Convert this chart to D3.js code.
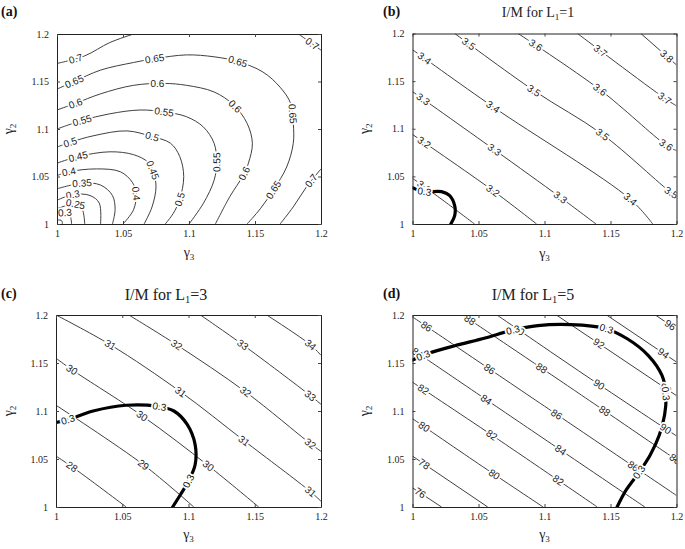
<!DOCTYPE html>
<html><head><meta charset="utf-8">
<script src="https://cdn.jsdelivr.net/npm/d3@7"></script>
<style>
body{margin:0;background:#fff}
svg text{font-family:"Liberation Serif","Times New Roman",serif}
.cl{font-family:"Liberation Sans",Arial,sans-serif !important;font-size:10px}
</style>
</head><body><svg id="c" width="685" height="549"></svg>
<script>
// ---------- data ----------
const xTicks = [1, 1.05, 1.1, 1.15, 1.2];
const yTicks = [1, 1.05, 1.1, 1.15, 1.2];
const tickLabels = ["1", "1.05", "1.1", "1.15", "1.2"];
const panelLetters = ["(a)", "(b)", "(c)", "(d)"];
const titleL1 = [null, "1", "3", "5"];

// panel (a): contour polylines [gamma3, gamma2] with label anchors
const contoursA = [
  {level:"0.7",  pts:[[1,1.169],[1.021,1.177],[1.04,1.191],[1.058,1.2]], labels:[[1.014,1.175]]},
  {level:"0.7",  pts:[[1.183,1.2],[1.19,1.193],[1.2,1.183]], labels:[[1.194,1.191]]},
  {level:"0.7",  pts:[[1.169,1],[1.179,1.018],[1.189,1.039],[1.2,1.058]], labels:[[1.194,1.044]]},
  {level:"0.65", pts:[[1,1.142],[1.013,1.15],[1.033,1.162],[1.058,1.17],[1.074,1.174],[1.098,1.178],[1.119,1.176],[1.137,1.171],[1.156,1.16],[1.169,1.144],[1.177,1.127],[1.179,1.106],[1.179,1.085],[1.174,1.06],[1.164,1.036],[1.154,1.016],[1.144,1]],
    labels:[[1.013,1.15],[1.074,1.174],[1.137,1.171],[1.178,1.116],[1.164,1.036]]},
  {level:"0.6",  pts:[[1,1.12],[1.014,1.127],[1.033,1.137],[1.058,1.146],[1.081,1.148],[1.098,1.146],[1.119,1.139],[1.134,1.125],[1.144,1.106],[1.148,1.085],[1.145,1.064],[1.141,1.051],[1.131,1.029],[1.12,1]],
    labels:[[1.014,1.127],[1.076,1.147],[1.135,1.124],[1.142,1.053]]},
  {level:"0.55", pts:[[1,1.1],[1.019,1.109],[1.04,1.116],[1.063,1.12],[1.081,1.118],[1.098,1.113],[1.111,1.102],[1.119,1.085],[1.121,1.065],[1.119,1.046],[1.111,1.022],[1.1,1]],
    labels:[[1.019,1.109],[1.081,1.117],[1.121,1.065]]},
  {level:"0.5",  pts:[[1,1.081],[1.01,1.086],[1.028,1.093],[1.053,1.098],[1.072,1.092],[1.086,1.085],[1.093,1.071],[1.096,1.05],[1.093,1.026],[1.088,1.011],[1.082,1]],
    labels:[[1.01,1.086],[1.072,1.092],[1.093,1.026]]},
  {level:"0.45", pts:[[1,1.064],[1.016,1.071],[1.04,1.076],[1.058,1.073],[1.069,1.065],[1.073,1.055],[1.075,1.039],[1.072,1.018],[1.066,1]],
    labels:[[1.016,1.071],[1.073,1.057]]},
  {level:"0.4",  pts:[[1,1.051],[1.009,1.055],[1.03,1.058],[1.048,1.055],[1.057,1.044],[1.06,1.032],[1.058,1.015],[1.05,1]],
    labels:[[1.009,1.055],[1.06,1.032]]},
  {level:"0.35", pts:[[1,1.037],[1.019,1.043],[1.033,1.041],[1.042,1.03],[1.044,1.015],[1.042,1]], labels:[[1.019,1.043]]},
  {level:"0.3",  pts:[[1,1.025],[1.012,1.031],[1.025,1.03],[1.032,1.022],[1.033,1]], labels:[[1.012,1.031]]},
  {level:"0.25", pts:[[1,1.016],[1.014,1.021],[1.019,1.016],[1.021,1]], labels:[[1.014,1.021]]},
  {level:"0.3",  pts:[[1,1.008],[1.006,1.012],[1.01,1.008],[1.011,1]], labels:[[1.006,1.012]]},
  {level:"",     pts:[[1,1.004],[1.003,1.004],[1.004,1.002],[1.004,1]], labels:[]}
];

// panel (b): I/M for L1 = 1
const contoursB = [
  {level:"3.1", pts:[[1,1.048],[1.024,1.024],[1.047,1]], labels:[[1.009,1.04]]},
  {level:"3.2", pts:[[1,1.094],[1.061,1.035],[1.094,1]], labels:[[1.007,1.082],[1.061,1.035]]},
  {level:"3.3", pts:[[1,1.139],[1.062,1.078],[1.112,1.028],[1.139,1]], labels:[[1.007,1.129],[1.062,1.078],[1.112,1.028]]},
  {level:"3.4", pts:[[1,1.183],[1.061,1.123],[1.165,1.026],[1.182,1]], labels:[[1.008,1.172],[1.061,1.123],[1.165,1.026]]},
  {level:"3.5", pts:[[1.032,1.2],[1.092,1.14],[1.144,1.094],[1.196,1.033],[1.2,1.03]], labels:[[1.041,1.186],[1.092,1.14],[1.144,1.094],[1.196,1.033]]},
  {level:"3.6", pts:[[1.08,1.2],[1.142,1.141],[1.192,1.083],[1.2,1.077]], labels:[[1.091,1.183],[1.142,1.141],[1.192,1.083]]},
  {level:"3.7", pts:[[1.125,1.2],[1.191,1.132],[1.2,1.124]], labels:[[1.142,1.181],[1.191,1.132]]},
  {level:"3.8", pts:[[1.173,1.2],[1.2,1.167]], labels:[[1.19,1.172]]}
];
const thickB = {level:"0.3", pts:[[1,1.038],[1.009,1.034],[1.022,1.034],[1.028,1.03],[1.032,1.019],[1.032,1.009],[1.029,1]], labels:[[1.009,1.034]]};

// panel (c): I/M for L1 = 3
const contoursC = [
  {level:"28", pts:[[1,1.053],[1.012,1.042],[1.053,1]], labels:[[1.012,1.042]]},
  {level:"29", pts:[[1,1.106],[1.066,1.044],[1.104,1]], labels:[[1.066,1.044]]},
  {level:"30", pts:[[1,1.155],[1.012,1.143],[1.065,1.095],[1.115,1.043],[1.153,1]], labels:[[1.012,1.143],[1.065,1.095],[1.115,1.043]]},
  {level:"31", pts:[[1,1.2],[1.041,1.169],[1.094,1.12],[1.142,1.069],[1.192,1.016],[1.2,1.006]], labels:[[1.041,1.169],[1.094,1.12],[1.142,1.069],[1.192,1.016]]},
  {level:"32", pts:[[1.055,1.2],[1.091,1.169],[1.143,1.12],[1.192,1.066],[1.2,1.058]], labels:[[1.091,1.169],[1.143,1.12],[1.192,1.066]]},
  {level:"33", pts:[[1.109,1.2],[1.141,1.169],[1.192,1.116],[1.2,1.107]], labels:[[1.141,1.169],[1.192,1.116]]},
  {level:"34", pts:[[1.159,1.2],[1.192,1.169],[1.2,1.158]], labels:[[1.192,1.169]]}
];
const thickC = {level:"0.3", pts:[[1,1.088],[1.009,1.091],[1.028,1.1],[1.053,1.106],[1.076,1.105],[1.089,1.1],[1.099,1.086],[1.105,1.065],[1.105,1.044],[1.1,1.027],[1.094,1.013],[1.088,1]],
  labels:[[1.009,1.091],[1.078,1.104],[1.1,1.027]]};

// panel (d): I/M for L1 = 5
const contoursD = [
  {level:"76", pts:[[1,1.02],[1.022,1]], labels:[[1.006,1.015]]},
  {level:"78", pts:[[1,1.053],[1.057,1]], labels:[[1.007,1.041]]},
  {level:"80", pts:[[1,1.092],[1.05,1.045],[1.099,1]], labels:[[1.009,1.084],[1.062,1.034]]},
  {level:"82", pts:[[1,1.13],[1.06,1.075],[1.14,1]], labels:[[1.008,1.122],[1.06,1.075],[1.109,1.025]]},
  {level:"84", pts:[[1,1.164],[1.09,1.08],[1.176,1]], labels:[[1.004,1.161],[1.057,1.114],[1.117,1.069]]},
  {level:"86", pts:[[1,1.198],[1.1,1.105],[1.2,1.012]], labels:[[1.011,1.189],[1.057,1.141],[1.107,1.092],[1.166,1.04]]},
  {level:"88", pts:[[1.038,1.2],[1.12,1.124],[1.2,1.049]], labels:[[1.043,1.194],[1.098,1.145],[1.144,1.097],[1.195,1.042]]},
  {level:"90", pts:[[1.064,1.2],[1.13,1.138],[1.2,1.074]], labels:[[1.08,1.183],[1.143,1.131],[1.192,1.082]]},
  {level:"92", pts:[[1.109,1.2],[1.2,1.116]], labels:[[1.142,1.172],[1.191,1.122]]},
  {level:"94", pts:[[1.147,1.2],[1.2,1.151]], labels:[[1.19,1.16]]},
  {level:"96", pts:[[1.184,1.2],[1.2,1.185]], labels:[[1.195,1.189]]}
];
const thickD = {level:"0.3", pts:[[1,1.153],[1.012,1.16],[1.032,1.168],[1.055,1.176],[1.075,1.184],[1.095,1.189],[1.12,1.19],[1.146,1.186],[1.163,1.175],[1.1785,1.158],[1.189,1.137],[1.192,1.117],[1.191,1.096],[1.187,1.075],[1.18,1.054],[1.171,1.035],[1.162,1.018],[1.155,1]],
  labels:[[1.008,1.158],[1.076,1.185],[1.147,1.186],[1.192,1.118],[1.172,1.036]]};

// ---------- drawing ----------
const svg = d3.select("#c");
const panels = [
  {box:[57,321,34,224],   letter:[1,16],   title:null,  tsize:14, ylab:13,  xlabY:257, contours:contoursA, thick:null},
  {box:[412.5,676.5,33.5,224], letter:[383,16], title:[538,17], tsize:14, ylab:369, xlabY:258, contours:contoursB, thick:thickB},
  {box:[56,321,315,507],  letter:[1,298],  title:[166,300], tsize:16, ylab:13, xlabY:539, contours:contoursC, thick:thickC},
  {box:[412.5,676.5,315,507], letter:[383,298], title:[533,300], tsize:16, ylab:369, xlabY:539, contours:contoursD, thick:thickD}
];

function snap(pts, p){ // nearest point on polyline in pixel space, with angle
  let best=null;
  for(let i=0;i<pts.length-1;i++){
    const a=pts[i], b=pts[i+1];
    const dx=b[0]-a[0], dy=b[1]-a[1];
    const L=dx*dx+dy*dy;
    let t=L?((p[0]-a[0])*dx+(p[1]-a[1])*dy)/L:0;
    t=Math.max(0,Math.min(1,t));
    const q=[a[0]+t*dx,a[1]+t*dy];
    const d=(q[0]-p[0])**2+(q[1]-p[1])**2;
    if(!best||d<best.d) best={d,q,ang:Math.atan2(dy,dx)*180/Math.PI};
  }
  let ang=best.ang;
  if(ang>90) ang-=180;
  if(ang<-90) ang+=180;
  return {q:best.q, ang};
}

panels.forEach((P,i)=>{
  const [x0,x1,y0,y1]=P.box;
  const x=d3.scaleLinear().domain([1,1.2]).range([x0,x1]);
  const y=d3.scaleLinear().domain([1,1.2]).range([y1,y0]);
  const g=svg.append("g");
  const cid="clip"+i;
  g.append("clipPath").attr("id",cid).append("rect").attr("x",x0).attr("y",y0).attr("width",x1-x0).attr("height",y1-y0);
  const gc=g.append("g").attr("clip-path",`url(#${cid})`);
  const line=d3.line().x(d=>x(d[0])).y(d=>y(d[1])).curve(d3.curveCatmullRom.alpha(0.5));

  P.contours.forEach(c=>{
    gc.append("path").attr("d",line(c.pts)).attr("fill","none").attr("stroke","#404040").attr("stroke-width",1);
  });
  if(P.thick){
    gc.append("path").attr("d",line(P.thick.pts)).attr("fill","none").attr("stroke","#000").attr("stroke-width",3.2).attr("stroke-linecap","round");
  }
  function addLabels(c, fill){
    if(!c.labels.length) return;
    const path=gc.append("path").attr("d",line(c.pts)).attr("fill","none").attr("stroke","none");
    const node=path.node(), len=node.getTotalLength();
    const dense=[];
    for(let s=0;s<=len;s+=1){const pt=node.getPointAtLength(s);dense.push([pt.x,pt.y]);}
    path.remove();
    c.labels.forEach(l=>{
      const s=snap(dense,[x(l[0]),y(l[1])]);
      gc.append("text").attr("class","cl")
        .attr("transform",`translate(${s.q[0]},${s.q[1]}) rotate(${s.ang})`)
        .attr("text-anchor","middle").attr("dy","0.35em")
        .attr("fill",fill).attr("stroke","#fff").attr("stroke-width",3.5).attr("paint-order","stroke")
        .text(c.level);
    });
  }
  P.contours.forEach(c=>addLabels(c,"#222"));
  if(P.thick) addLabels(P.thick,"#111");

  // axes
  const ax=g.append("g").attr("transform",`translate(0,${y1})`)
    .call(d3.axisBottom(x).tickValues(xTicks).tickFormat((d)=>tickLabels[xTicks.indexOf(d)]).tickSizeInner(-3).tickSizeOuter(0).tickPadding(6));
  const ay=g.append("g").attr("transform",`translate(${x0},0)`)
    .call(d3.axisLeft(y).tickValues(yTicks).tickFormat((d)=>tickLabels[yTicks.indexOf(d)]).tickSizeInner(-3).tickSizeOuter(0).tickPadding(8));
  const at=g.append("g").attr("transform",`translate(0,${y0})`)
    .call(d3.axisTop(x).tickValues(xTicks).tickFormat("").tickSizeInner(-3).tickSizeOuter(0));
  const ar=g.append("g").attr("transform",`translate(${x1},0)`)
    .call(d3.axisRight(y).tickValues(yTicks).tickFormat("").tickSizeInner(-3).tickSizeOuter(0));
  [ax,ay,at,ar].forEach(a=>{
    a.selectAll("text").attr("font-family","Liberation Serif").attr("font-size","10px").attr("fill","#222");
    a.select(".domain").attr("stroke","#222").attr("stroke-width",1);
    a.selectAll(".tick line").attr("stroke","#444");
  });

  // axis labels
  const xl=g.append("text").attr("x",(x0+x1)/2).attr("y",P.xlabY).attr("text-anchor","middle").attr("font-size","14px").attr("fill","#222");
  xl.append("tspan").text("γ");
  xl.append("tspan").attr("font-size","9px").attr("dy","3").text("3");
  const yl=g.append("text").attr("transform",`translate(${P.ylab},${(y0+y1)/2}) rotate(-90)`).attr("text-anchor","middle").attr("font-size","14px").attr("fill","#222");
  yl.append("tspan").text("γ");
  yl.append("tspan").attr("font-size","9px").attr("dy","3").text("2");

  // panel letter
  g.append("text").attr("x",P.letter[0]).attr("y",P.letter[1]).attr("font-size","14px").attr("font-weight","bold").attr("fill","#111").text(panelLetters[i]);
  // title
  if(P.title){
    const t=g.append("text").attr("x",P.title[0]).attr("y",P.title[1]).attr("text-anchor","middle").attr("font-size",P.tsize+"px").attr("fill","#222");
    t.append("tspan").text("I/M for L");
    t.append("tspan").attr("font-size",(P.tsize*0.65)+"px").attr("dy","3").text("1");
    t.append("tspan").attr("dy","-3").text("=" + titleL1[i]);
  }
});
</script>
</body></html>
